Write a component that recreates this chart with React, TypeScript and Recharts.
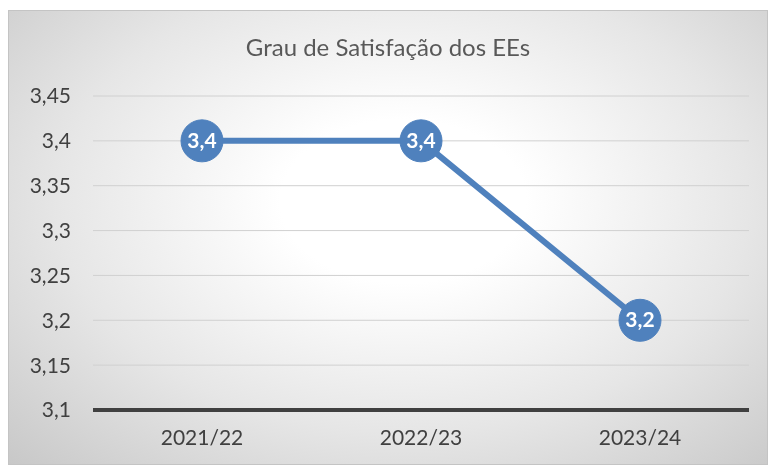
import { LineChart, Line, XAxis, YAxis, CartesianGrid, ReferenceLine } from "recharts"

const years = ["2021/22", "2022/23", "2023/24"]
const satisfaction = [3.4, 3.4, 3.2]
const yTicks = [3.1, 3.15, 3.2, 3.25, 3.3, 3.35, 3.4, 3.45]

const data = years.map((year, i) => ({ year, value: satisfaction[i] }))

const font = "Lato, 'Open Sans', sans-serif"
const fmt = (v: number) => String(v).replace(".", ",")

// big blue marker with the value written inside
const ValueDot = (props: any) => {
  const { cx, cy, value, index } = props
  if (cx == null || cy == null) return null
  return (
    <g key={`dot-${index}`}>
      <circle cx={cx} cy={cy} r={21} fill="#4f81bd" stroke="#4f81bd" strokeWidth={1} />
      <text
        x={cx}
        y={cy}
        dy={7}
        textAnchor="middle"
        fill="#ffffff"
        fontWeight="bold"
        fontSize={21}
        fontFamily={font}
      >
        {fmt(value)}
      </text>
    </g>
  )
}

export default function App() {
  return (
    <div
      style={{
        position: "fixed",
        left: 8,
        top: 10,
        width: 760,
        height: 455,
        boxSizing: "border-box",
        border: "1px solid #c4c4c4",
        background: "radial-gradient(ellipse at 52% 42%, #ffffff 0%, #ffffff 22%, #e6e6e6 62%, #c8c8c8 100%)",
        fontFamily: font,
      }}
    >
      <div
        style={{
          position: "absolute",
          top: 21,
          left: 0,
          width: "100%",
          textAlign: "center",
          fontSize: 24,
          color: "#595959",
        }}
      >
        Grau de Satisfação dos EEs
      </div>
      <LineChart
        width={758}
        height={453}
        data={data}
        margin={{ top: 85, right: 18, bottom: 24, left: 0 }}
        style={{ position: "absolute", left: 0, top: 0 }}
      >
        <CartesianGrid vertical={false} stroke="#d0d0d0" strokeWidth={1} />
        <XAxis
          dataKey="year"
          axisLine={false}
          tickLine={false}
          tickSize={0}
          tickMargin={20}
          padding={{ left: 109, right: 109 }}
          tick={{ fill: "#404040", fontSize: 21, fontFamily: font }}
        />
        <YAxis
          domain={[3.1, 3.45]}
          ticks={yTicks}
          width={84}
          axisLine={false}
          tickLine={false}
          tickSize={0}
          tickMargin={22}
          tickFormatter={fmt}
          tick={{ fill: "#404040", fontSize: 21, fontFamily: font }}
        />
        <ReferenceLine y={3.1} stroke="#404040" strokeWidth={4} />
        <Line
          dataKey="value"
          stroke="#4f81bd"
          strokeWidth={6}
          dot={ValueDot}
          activeDot={false}
          isAnimationActive={false}
        />
      </LineChart>
    </div>
  )
}
